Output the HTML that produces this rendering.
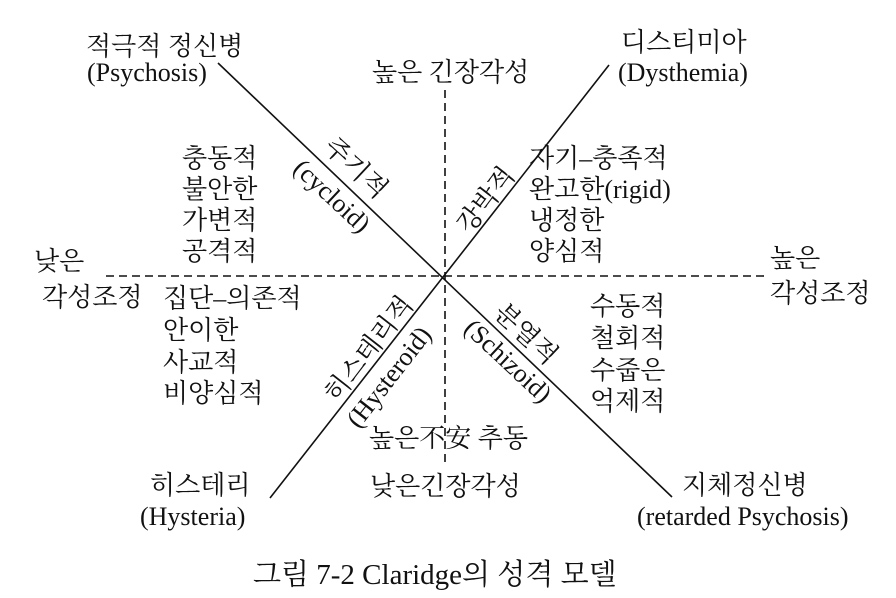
<!DOCTYPE html>
<html><head><meta charset="utf-8"><style>
html,body{margin:0;padding:0;background:#fff;}
svg{display:block}
text{font-family:"Liberation Serif","Noto Serif CJK SC",serif;font-size:26px;fill:#111;}
</style></head><body>
<svg width="896" height="598" viewBox="0 0 896 598" xmlns="http://www.w3.org/2000/svg">
<g stroke="#111" stroke-width="1.6" fill="none">
<line x1="218" y1="63" x2="672" y2="497"/>
<line x1="609" y1="65" x2="270" y2="498"/>
<line x1="106" y1="276" x2="767" y2="276" stroke-dasharray="8,5"/>
<line x1="445" y1="90" x2="445" y2="462" stroke-dasharray="8,5"/>
</g>
<text x="86" y="55">적극적 정신병</text>
<text x="87" y="81">(Psychosis)</text>
<text x="372" y="81">높은 긴장각성</text>
<text x="621" y="51">디스티미아</text>
<text x="618" y="81">(Dysthemia)</text>
<text x="182" y="167">충동적</text>
<text x="182" y="198">불안한</text>
<text x="182" y="229">가변적</text>
<text x="182" y="260">공격적</text>
<text x="529" y="167">자기–충족적</text>
<text x="529" y="198">완고한(rigid)</text>
<text x="529" y="229">냉정한</text>
<text x="529" y="260">양심적</text>
<text x="34" y="270">낮은</text>
<text x="42" y="306">각성조정</text>
<text x="770" y="267">높은</text>
<text x="770" y="302">각성조정</text>
<text x="163" y="307">집단–의존적</text>
<text x="163" y="339">안이한</text>
<text x="163" y="371">사교적</text>
<text x="163" y="402">비양심적</text>
<text x="590" y="315">수동적</text>
<text x="590" y="347">철회적</text>
<text x="590" y="379">수줍은</text>
<text x="590" y="410">억제적</text>
<text x="369" y="447">높은不安 추동</text>
<text x="370" y="495">낮은긴장각성</text>
<text x="150" y="494">히스테리</text>
<text x="140" y="525">(Hysteria)</text>
<text x="682" y="494">지체정신병</text>
<text x="637" y="525">(retarded Psychosis)</text>
<text x="253" y="584" style="font-size:29px">그림 7-2 Claridge의 성격 모델</text>
<g text-anchor="middle" dominant-baseline="central" style="font-size:25px">
<text transform="translate(356,168) rotate(43)">주기적</text>
<text transform="translate(332,196) rotate(43)">(cycloid)</text>
<text transform="translate(486,200) rotate(-52)">강박적</text>
<text transform="translate(369,349) rotate(-52)">히스테리적</text>
<text transform="translate(389,377) rotate(-52)">(Hysteroid)</text>
<text transform="translate(526,334) rotate(43)">분열적</text>
<text transform="translate(508,361) rotate(43)">(Schizoid)</text>
</g>
</svg>
</body></html>
